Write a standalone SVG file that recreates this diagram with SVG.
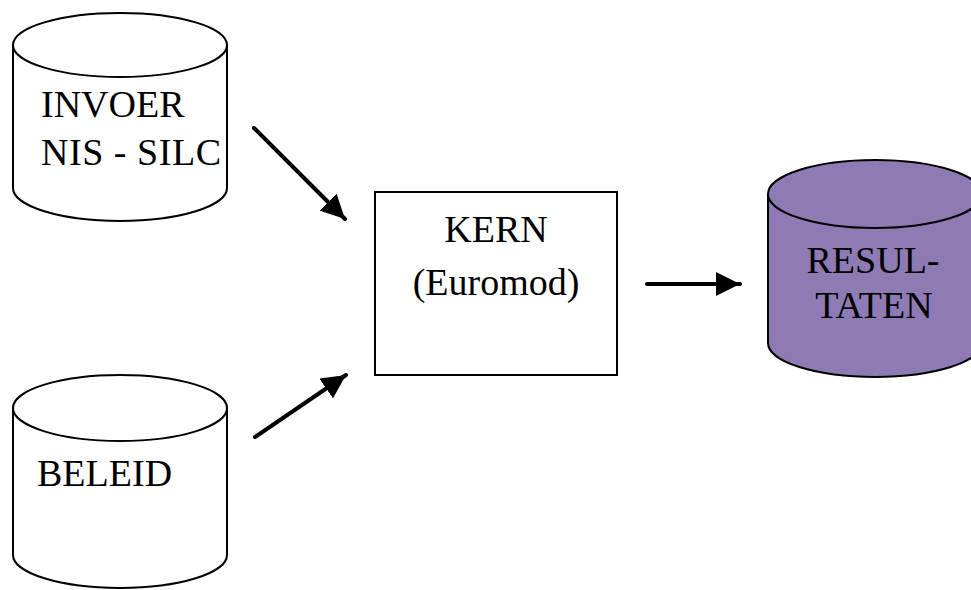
<svg xmlns="http://www.w3.org/2000/svg" width="971" height="590" viewBox="0 0 971 590">
<style>
.cyl{fill:#ffffff;stroke:#000;stroke-width:2}
.cylp{fill:#8f7bb4;stroke:#000;stroke-width:2}
.box{fill:#ffffff;stroke:#000;stroke-width:2}
.t{font-size:38px;fill:#000}
.c{text-anchor:middle}
.con{stroke:#000;stroke-width:4;fill:none;stroke-linecap:round}
</style>
<defs>
<marker id="ah" viewBox="0 0 10 10" refX="10" refY="5" markerWidth="6" markerHeight="6" markerUnits="strokeWidth" orient="auto" preserveAspectRatio="none">
<path d="M0,0 L10,5 L0,10 Z" fill="#000"/>
</marker>
</defs>
<rect width="971" height="590" fill="#fff"/>
<g font-family="'Liberation Serif', 'Times New Roman', 'DejaVu Serif', serif">
<g id="invoer">
<path class="cyl" d="M13,45 V188 A107,33 0 0 0 227,188 V45"/>
<ellipse class="cyl" cx="120" cy="45" rx="107" ry="32"/>
<text class="t" x="41" y="117">INVOER</text>
<text class="t" x="41" y="165" textLength="180" lengthAdjust="spacing">NIS - SILC</text>
</g>
<g id="beleid">
<path class="cyl" d="M13,408 V555 A107,33 0 0 0 227,555 V408"/>
<ellipse class="cyl" cx="120" cy="408" rx="107" ry="33"/>
<text class="t" x="37" y="486">BELEID</text>
</g>
<g id="kern">
<rect class="box" x="375" y="192" width="242" height="183"/>
<text class="t c" x="496" y="242">KERN</text>
<text class="t c" x="496" y="295">(Euromod)</text>
</g>
<g id="resultaten">
<path class="cylp" d="M768,194 V343 A107,34 0 0 0 982,343 V194"/>
<ellipse class="cylp" cx="875" cy="194" rx="107" ry="34"/>
<text class="t c" x="873" y="273">RESUL-</text>
<text class="t c" x="874" y="318">TATEN</text>
</g>
</g>
<g id="connectors">
<line class="con" x1="254" y1="128" x2="345" y2="219" marker-end="url(#ah)"/>
<line class="con" x1="255" y1="437" x2="346" y2="375" marker-end="url(#ah)"/>
<line class="con" x1="647" y1="284" x2="740" y2="284" marker-end="url(#ah)"/>
</g>
</svg>
